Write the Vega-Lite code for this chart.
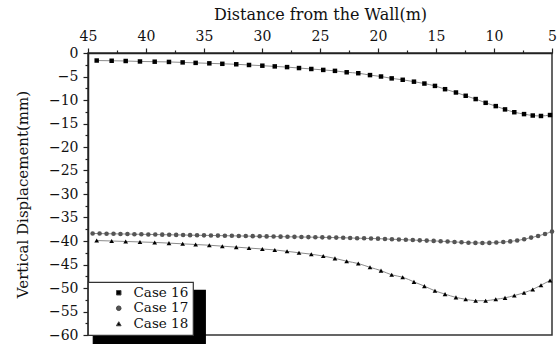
{
  "$schema": "https://vega.github.io/schema/vega-lite/v6.json",
  "width": 464,
  "height": 282,
  "autosize": {"type": "none"},
  "padding": {"left": 88, "top": 53, "right": 8, "bottom": 10},
  "background": "white",
  "config": {
    "font": "DejaVu Serif",
    "view": {"stroke": "#333", "strokeWidth": 1.5},
    "axis": {
      "domainColor": "#222", "domainWidth": 1.5, "tickColor": "#222", "tickWidth": 1.2,
      "labelColor": "#111", "labelFont": "DejaVu Serif", "labelFontSize": 14,
      "titleFont": "DejaVu Serif", "titleFontSize": 16, "titleFontWeight": "normal", "titleColor": "#111",
      "grid": false
    },
    "legend": {"labelFont": "DejaVu Serif", "labelFontSize": 13.5, "labelColor": "#111", "strokeWidth": 1.2}
  },
  "datasets": {
    "pts": [
      {"case": "Case 16", "x": 44.25, "y": -1.6},
      {"case": "Case 16", "x": 42.96, "y": -1.65},
      {"case": "Case 16", "x": 41.75, "y": -1.7},
      {"case": "Case 16", "x": 40.52, "y": -1.8},
      {"case": "Case 16", "x": 39.25, "y": -1.85},
      {"case": "Case 16", "x": 38.02, "y": -1.9},
      {"case": "Case 16", "x": 36.84, "y": -2.0},
      {"case": "Case 16", "x": 35.72, "y": -2.1},
      {"case": "Case 16", "x": 34.54, "y": -2.2},
      {"case": "Case 16", "x": 33.42, "y": -2.3},
      {"case": "Case 16", "x": 32.22, "y": -2.4},
      {"case": "Case 16", "x": 31.12, "y": -2.55},
      {"case": "Case 16", "x": 29.97, "y": -2.7},
      {"case": "Case 16", "x": 28.9, "y": -2.85},
      {"case": "Case 16", "x": 27.84, "y": -3.0},
      {"case": "Case 16", "x": 26.81, "y": -3.2},
      {"case": "Case 16", "x": 25.75, "y": -3.4},
      {"case": "Case 16", "x": 24.72, "y": -3.6},
      {"case": "Case 16", "x": 23.71, "y": -3.8},
      {"case": "Case 16", "x": 22.7, "y": -4.1},
      {"case": "Case 16", "x": 21.7, "y": -4.3},
      {"case": "Case 16", "x": 20.69, "y": -4.7},
      {"case": "Case 16", "x": 19.74, "y": -5.0},
      {"case": "Case 16", "x": 18.82, "y": -5.4},
      {"case": "Case 16", "x": 17.87, "y": -5.7},
      {"case": "Case 16", "x": 16.9, "y": -6.1},
      {"case": "Case 16", "x": 16.0, "y": -6.5},
      {"case": "Case 16", "x": 15.09, "y": -7.0},
      {"case": "Case 16", "x": 14.22, "y": -7.7},
      {"case": "Case 16", "x": 13.28, "y": -8.4},
      {"case": "Case 16", "x": 12.44, "y": -9.1},
      {"case": "Case 16", "x": 11.58, "y": -9.8},
      {"case": "Case 16", "x": 10.72, "y": -10.6},
      {"case": "Case 16", "x": 9.85, "y": -11.3},
      {"case": "Case 16", "x": 9.05, "y": -12.0},
      {"case": "Case 16", "x": 8.25, "y": -12.6},
      {"case": "Case 16", "x": 7.41, "y": -13.0},
      {"case": "Case 16", "x": 6.66, "y": -13.3},
      {"case": "Case 16", "x": 5.95, "y": -13.4},
      {"case": "Case 16", "x": 5.17, "y": -13.2},

      {"case": "Case 17", "x": 44.6, "y": -38.4},
      {"case": "Case 17", "x": 44.0, "y": -38.42},
      {"case": "Case 17", "x": 43.4, "y": -38.45},
      {"case": "Case 17", "x": 42.8, "y": -38.47},
      {"case": "Case 17", "x": 42.2, "y": -38.5},
      {"case": "Case 17", "x": 41.6, "y": -38.52},
      {"case": "Case 17", "x": 41.0, "y": -38.55},
      {"case": "Case 17", "x": 40.4, "y": -38.58},
      {"case": "Case 17", "x": 39.8, "y": -38.6},
      {"case": "Case 17", "x": 39.2, "y": -38.63},
      {"case": "Case 17", "x": 38.6, "y": -38.65},
      {"case": "Case 17", "x": 38.0, "y": -38.68},
      {"case": "Case 17", "x": 37.4, "y": -38.7},
      {"case": "Case 17", "x": 36.8, "y": -38.72},
      {"case": "Case 17", "x": 36.2, "y": -38.75},
      {"case": "Case 17", "x": 35.6, "y": -38.78},
      {"case": "Case 17", "x": 35.0, "y": -38.8},
      {"case": "Case 17", "x": 34.4, "y": -38.82},
      {"case": "Case 17", "x": 33.8, "y": -38.85},
      {"case": "Case 17", "x": 33.2, "y": -38.87},
      {"case": "Case 17", "x": 32.6, "y": -38.9},
      {"case": "Case 17", "x": 32.0, "y": -38.92},
      {"case": "Case 17", "x": 31.4, "y": -38.95},
      {"case": "Case 17", "x": 30.8, "y": -38.97},
      {"case": "Case 17", "x": 30.2, "y": -39.0},
      {"case": "Case 17", "x": 29.6, "y": -39.02},
      {"case": "Case 17", "x": 29.0, "y": -39.05},
      {"case": "Case 17", "x": 28.4, "y": -39.07},
      {"case": "Case 17", "x": 27.8, "y": -39.1},
      {"case": "Case 17", "x": 27.2, "y": -39.12},
      {"case": "Case 17", "x": 26.6, "y": -39.15},
      {"case": "Case 17", "x": 26.0, "y": -39.17},
      {"case": "Case 17", "x": 25.4, "y": -39.2},
      {"case": "Case 17", "x": 24.8, "y": -39.22},
      {"case": "Case 17", "x": 24.2, "y": -39.25},
      {"case": "Case 17", "x": 23.6, "y": -39.28},
      {"case": "Case 17", "x": 23.0, "y": -39.32},
      {"case": "Case 17", "x": 22.4, "y": -39.35},
      {"case": "Case 17", "x": 21.8, "y": -39.4},
      {"case": "Case 17", "x": 21.2, "y": -39.43},
      {"case": "Case 17", "x": 20.6, "y": -39.47},
      {"case": "Case 17", "x": 20.0, "y": -39.5},
      {"case": "Case 17", "x": 19.4, "y": -39.56},
      {"case": "Case 17", "x": 18.8, "y": -39.62},
      {"case": "Case 17", "x": 18.2, "y": -39.68},
      {"case": "Case 17", "x": 17.6, "y": -39.74},
      {"case": "Case 17", "x": 17.0, "y": -39.8},
      {"case": "Case 17", "x": 16.4, "y": -39.86},
      {"case": "Case 17", "x": 15.8, "y": -39.92},
      {"case": "Case 17", "x": 15.2, "y": -39.98},
      {"case": "Case 17", "x": 14.6, "y": -40.05},
      {"case": "Case 17", "x": 14.0, "y": -40.12},
      {"case": "Case 17", "x": 13.4, "y": -40.2},
      {"case": "Case 17", "x": 12.8, "y": -40.28},
      {"case": "Case 17", "x": 12.2, "y": -40.36},
      {"case": "Case 17", "x": 11.6, "y": -40.4},
      {"case": "Case 17", "x": 11.0, "y": -40.42},
      {"case": "Case 17", "x": 10.4, "y": -40.4},
      {"case": "Case 17", "x": 9.8, "y": -40.33},
      {"case": "Case 17", "x": 9.2, "y": -40.23},
      {"case": "Case 17", "x": 8.6, "y": -40.08},
      {"case": "Case 17", "x": 8.0, "y": -39.9},
      {"case": "Case 17", "x": 7.4, "y": -39.62},
      {"case": "Case 17", "x": 6.8, "y": -39.28},
      {"case": "Case 17", "x": 6.2, "y": -38.92},
      {"case": "Case 17", "x": 5.6, "y": -38.5},
      {"case": "Case 17", "x": 5.0, "y": -38.0},

      {"case": "Case 18", "x": 44.25, "y": -39.9},
      {"case": "Case 18", "x": 42.96, "y": -40.0},
      {"case": "Case 18", "x": 41.75, "y": -40.1},
      {"case": "Case 18", "x": 40.52, "y": -40.2},
      {"case": "Case 18", "x": 39.25, "y": -40.3},
      {"case": "Case 18", "x": 38.02, "y": -40.45},
      {"case": "Case 18", "x": 36.84, "y": -40.6},
      {"case": "Case 18", "x": 35.72, "y": -40.75},
      {"case": "Case 18", "x": 34.54, "y": -40.9},
      {"case": "Case 18", "x": 33.42, "y": -41.1},
      {"case": "Case 18", "x": 32.22, "y": -41.3},
      {"case": "Case 18", "x": 31.12, "y": -41.5},
      {"case": "Case 18", "x": 29.97, "y": -41.7},
      {"case": "Case 18", "x": 28.9, "y": -41.9},
      {"case": "Case 18", "x": 27.84, "y": -42.2},
      {"case": "Case 18", "x": 26.81, "y": -42.5},
      {"case": "Case 18", "x": 25.75, "y": -42.8},
      {"case": "Case 18", "x": 24.72, "y": -43.2},
      {"case": "Case 18", "x": 23.71, "y": -43.7},
      {"case": "Case 18", "x": 22.7, "y": -44.3},
      {"case": "Case 18", "x": 21.7, "y": -44.8},
      {"case": "Case 18", "x": 20.69, "y": -45.6},
      {"case": "Case 18", "x": 19.74, "y": -46.3},
      {"case": "Case 18", "x": 18.82, "y": -47.2},
      {"case": "Case 18", "x": 17.87, "y": -47.7},
      {"case": "Case 18", "x": 16.9, "y": -48.7},
      {"case": "Case 18", "x": 16.0, "y": -49.6},
      {"case": "Case 18", "x": 15.09, "y": -50.6},
      {"case": "Case 18", "x": 14.22, "y": -51.3},
      {"case": "Case 18", "x": 13.28, "y": -52.0},
      {"case": "Case 18", "x": 12.44, "y": -52.4},
      {"case": "Case 18", "x": 11.58, "y": -52.7},
      {"case": "Case 18", "x": 10.72, "y": -52.7},
      {"case": "Case 18", "x": 9.85, "y": -52.4},
      {"case": "Case 18", "x": 9.05, "y": -52.1},
      {"case": "Case 18", "x": 8.25, "y": -51.6},
      {"case": "Case 18", "x": 7.41, "y": -51.0},
      {"case": "Case 18", "x": 6.66, "y": -50.3},
      {"case": "Case 18", "x": 5.95, "y": -49.4},
      {"case": "Case 18", "x": 5.17, "y": -48.4}
    ]
  },
  "data": {"name": "pts"},
  "layer": [
    {
      "mark": {"type": "line", "color": "#8c8c8c", "interpolate": "monotone"},
      "encoding": {
        "x": {
          "field": "x", "type": "quantitative",
          "scale": {"domain": [5, 45], "reverse": true, "nice": false, "zero": false},
          "axis": {
            "orient": "top", "values": [45, 40, 35, 30, 25, 20, 15, 10, 5],
            "title": "Distance from the Wall(m)", "tickSize": 5, "labelPadding": 5,
            "titlePadding": 7, "labelFlush": false
          }
        },
        "y": {
          "field": "y", "type": "quantitative",
          "scale": {"domain": [-60, 0], "nice": false, "zero": false},
          "axis": {
            "orient": "left", "values": [0, -5, -10, -15, -20, -25, -30, -35, -40, -45, -50, -55, -60],
            "title": "Vertical Displacement(mm)", "tickSize": 5, "labelPadding": 5,
            "titlePadding": 18, "labelFlush": false, "titleFontSize": 15
          }
        },
        "detail": {"field": "case", "type": "nominal"},
        "strokeWidth": {
          "field": "case", "type": "nominal",
          "scale": {"domain": ["Case 16", "Case 17", "Case 18"], "range": [1, 1, 1]},
          "legend": {
            "title": null, "orient": "none", "legendX": 5, "legendY": 237,
            "padding": 4, "fillColor": "#000000", "strokeColor": "#000000",
            "symbolSize": 120, "symbolOffset": 20, "labelOffset": 70, "rowPadding": 0.5,
            "symbolOpacity": 0,
            "labelExpr": "''",
            "encode": {
              "symbols": {"opacity": {"value": 0}}
            }
          }
        }
      }
    },
    {
      "mark": {"type": "point", "filled": true, "opacity": 1},
      "encoding": {
        "x": {
          "field": "x", "type": "quantitative",
          "axis": {
            "orient": "top", "values": [42.5, 37.5, 32.5, 27.5, 22.5, 17.5, 12.5, 7.5],
            "labels": false, "domain": false, "title": null, "tickSize": 3
          }
        },
        "y": {
          "field": "y", "type": "quantitative",
          "axis": {
            "orient": "left", "values": [-2.5, -7.5, -12.5, -17.5, -22.5, -27.5, -32.5, -37.5, -42.5, -47.5, -52.5, -57.5],
            "labels": false, "domain": false, "title": null, "tickSize": 3
          }
        },
        "shape": {
          "field": "case", "type": "nominal",
          "scale": {"domain": ["Case 16", "Case 17", "Case 18"], "range": ["square", "circle", "triangle-up"]},
          "legend": null
        },
        "color": {
          "field": "case", "type": "nominal",
          "scale": {"domain": ["Case 16", "Case 17", "Case 18"], "range": ["#000000", "#555555", "#000000"]},
          "legend": {
            "title": null, "orient": "bottom-left", "offset": 0,
            "padding": 4, "fillColor": "white", "strokeColor": "#333",
            "symbolSize": 120, "symbolOffset": 20, "labelOffset": 8, "rowPadding": 0.5,
            "symbolStrokeColor": "#444", "symbolStrokeWidth": 1,
            "labelExpr": "datum.label + '  '",
            "encode": {
              "symbols": {
                "shape": {"value": {"expr": "datum.value === 'Case 16' ? 'M-1,0H1M-0.17,-0.13H0.17V0.13H-0.17Z' : datum.value === 'Case 17' ? 'M-1,0H1M-0.14,0A0.14,0.14 0 1,0 0.14,0A0.14,0.14 0 1,0 -0.14,0Z' : 'M-1,0H1M-0.2,0.15L0,-0.2L0.2,0.15Z'"}},
                "size": {"value": 729},
                "fill": {"value": {"expr": "datum.value === 'Case 17' ? '#555' : '#000'"}},
                "stroke": {"value": "#444"},
                "strokeWidth": {"value": 1},
                "strokeOpacity": {"value": 1},
                "opacity": {"value": 1}
              }
            }
          }
        },
        "size": {
          "field": "case", "type": "nominal",
          "scale": {"domain": ["Case 16", "Case 17", "Case 18"], "range": [20, 22, 46]},
          "legend": null
        }
      }
    }
  ],
  "resolve": {"axis": {"x": "independent", "y": "independent"}}
}
